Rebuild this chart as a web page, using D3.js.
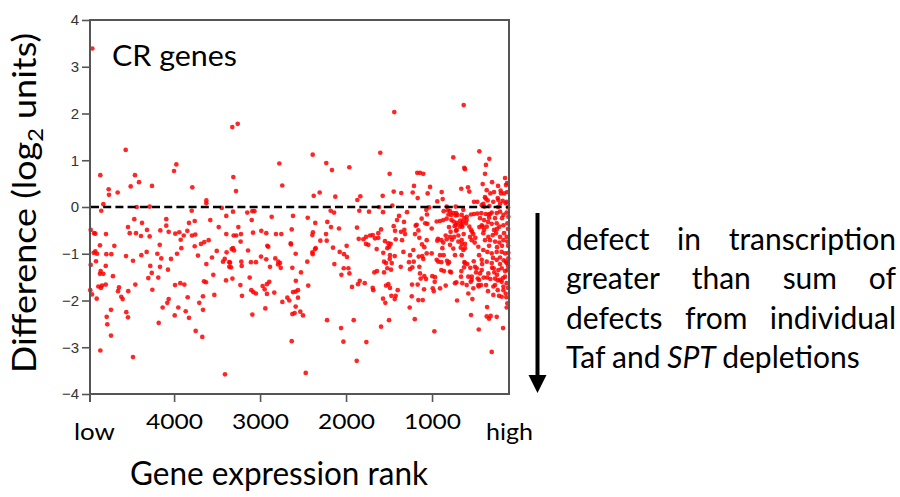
<!DOCTYPE html>
<html><head><meta charset="utf-8">
<script src="https://cdn.jsdelivr.net/npm/d3@7"></script>
<style>body{margin:0;background:#fff}svg{display:block}</style>
</head><body><svg id="c" width="900" height="497"></svg>
<script>
// ---- data: [gene expression rank, difference (log2 units)] ----
const crGenes = [
[4951,3.39],[4563,1.22],[3974,0.91],[4001,0.77],[4858,0.68],[4455,0.68],[4408,0.53],[4505,0.44],[4257,0.45],[3788,0.42],
[4761,0.38],[4656,0.31],[4757,0.26],[4823,0.06],[3625,0.14],[3625,0.08],[4435,0.00],[4284,0.01],[4847,-0.08],[3795,-0.08],
[3446,-0.02],[3393,-0.19],[4463,-0.26],[4091,-0.26],[4373,-0.34],[3760,-0.30],[3827,-0.34],[3579,-0.28],[4091,-0.40],[4536,-0.43],
[4315,-0.49],[4970,-0.49],[4931,-0.56],[4916,-0.57],[4516,-0.56],[4443,-0.56],[4160,-0.50],[4063,-0.53],[3986,-0.57],[3939,-0.54],
[3846,-0.51],[3481,-0.43],[4792,-0.58],[4385,-0.62],[4284,-0.63],[3888,-0.61],[3792,-0.61],[3753,-0.59],[3393,-0.58],[3923,-0.70],
[3598,-0.71],[3649,-0.75],[3687,-0.79],[4862,-0.82],[4695,-0.83],[4167,-0.81],[3760,-0.84],[3916,-0.88],[4916,-0.95],[4935,-0.98],
[4897,-1.00],[4788,-1.01],[4730,-1.01],[4319,-0.96],[4195,-1.00],[3966,-1.00],[3504,-0.94],[4381,-1.03],[4559,-1.05],[3722,-1.04],
[4149,-1.10],[4036,-1.11],[3559,-1.08],[3411,-1.11],[4908,-1.16],[4478,-1.15],[3431,-1.17],[4970,-1.24],[4795,-1.26],[4854,-1.37],
[4862,-1.43],[4823,-1.43],[4711,-1.48],[4277,-1.26],[4164,-1.28],[4071,-1.34],[3625,-1.22],[3358,-1.18],[3358,-1.28],[4260,-1.41],
[4300,-1.52],[4184,-1.51],[3544,-1.45],[3652,-1.59],[3629,-1.61],[3396,-1.57],[3928,-1.63],[3881,-1.66],[3989,-1.67],[4451,-1.66],
[4881,-1.70],[4838,-1.68],[4795,-1.66],[4850,-1.73],[4641,-1.72],[4652,-1.80],[4533,-1.80],[4253,-1.77],[4975,-1.78],[4955,-1.87],
[4614,-1.92],[4598,-1.97],[4900,-1.96],[3842,-1.93],[4063,-1.97],[4079,-2.05],[3664,-1.91],[3532,-1.88],[3707,-2.05],[4133,-2.15],
[3951,-2.15],[4734,-2.20],[4556,-2.25],[3664,-2.20],[3865,-2.23],[3993,-2.32],[4784,-2.35],[4536,-2.36],[3827,-2.37],[4179,-2.48],
[4777,-2.51],[3749,-2.65],[4734,-2.75],[3672,-2.78],[4858,-3.07],[4478,-3.21],[3408,-3.58],[3323,1.71],[3260,1.78],[3311,0.64],
[3280,0.34],[2776,0.93],[2742,0.46],[3315,-0.10],[3149,-0.12],[3090,-0.09],[3066,-0.09],[3097,-0.28],[2865,-0.21],[2617,-0.19],
[1439,2.03],[632,2.18],[2388,1.12],[1602,1.16],[2230,0.94],[2164,0.79],[1962,0.85],[753,1.06],[450,1.19],[334,1.03],
[373,0.90],[625,0.84],[617,0.81],[1493,0.71],[1172,0.73],[1140,0.73],[1102,0.71],[384,0.71],[2376,0.24],[2307,0.31],
[2125,0.22],[1834,0.23],[1869,0.15],[1574,0.24],[1446,0.33],[1358,0.30],[1210,0.45],[1225,0.31],[1167,0.19],[1051,0.29],
[1023,0.43],[888,0.32],[876,0.17],[939,0.12],[660,0.39],[582,0.42],[567,0.33],[411,0.49],[364,0.36],[322,0.29],
[140,0.47],[202,0.35],[160,0.29],[125,0.32],[512,0.11],[474,0.11],[404,0.07],[376,0.18],[353,0.14],[288,0.11],
[229,0.15],[209,0.07],[178,0.13],[143,0.08],[1462,0.03],[1617,0.00],[830,0.01],[725,0.01],[2446,-0.23],[2358,-0.34],
[2179,-0.08],[2140,-0.12],[2218,-0.32],[2175,-0.43],[2082,-0.46],[1846,-0.08],[1733,-0.10],[1570,-0.11],[1384,-0.19],[1407,-0.28],
[1291,-0.11],[1059,-0.16],[1121,-0.25],[1179,-0.38],[1079,-0.35],[946,-0.31],[907,-0.30],[869,-0.28],[830,-0.25],[865,-0.09],
[791,-0.09],[753,-0.13],[725,-0.18],[636,-0.06],[547,-0.16],[748,-0.31],[721,-0.38],[640,-0.31],[663,-0.36],[648,-0.42],
[597,-0.28],[473,-0.14],[427,-0.13],[376,-0.15],[326,-0.15],[442,-0.24],[395,-0.28],[337,-0.23],[1361,-0.53],[1430,-0.51],
[1423,-0.69],[1349,-0.71],[1481,-0.79],[1625,-0.56],[1625,-0.66],[1593,-0.48],[1873,-0.44],[1853,-0.68],[1799,-0.69],[1768,-0.64],
[1721,-0.61],[1690,-0.60],[1547,-0.73],[1508,-0.78],[1520,-0.88],[1198,-0.58],[1148,-0.66],[1117,-0.80],[1062,-0.71],[930,-0.68],
[939,-0.72],[869,-0.76],[830,-0.69],[791,-0.64],[768,-0.70],[744,-0.64],[713,-0.49],[655,-0.39],[694,-0.61],[632,-0.58],
[803,-0.43],[655,-0.71],[566,-0.42],[535,-0.53],[520,-0.58],[497,-0.66],[504,-0.76],[450,-0.43],[411,-0.42],[395,-0.49],
[462,-0.85],[666,-0.87],[880,-0.88],[2632,-0.48],[2640,-0.80],[2753,-0.58],[2385,-0.54],[2392,-0.60],[2233,-0.58],[2225,-0.72],
[2299,-0.72],[2353,-0.88],[2152,-0.87],[1993,-0.83],[3253,-0.43],[3307,-0.61],[3277,-0.61],[3222,-0.58],[3082,-0.55],[2986,-0.51],
[2928,-0.56],[2815,-0.58],[3226,-0.74],[2916,-0.83],[2905,-0.85],[2644,-0.78],[3315,-0.88],[3303,-0.93],[3330,-0.90],[3140,-0.93],
[3389,-0.97],[2989,-1.06],[2928,-1.12],[2823,-1.10],[2586,-1.00],[2392,-0.97],[2388,-1.01],[2361,-0.90],[2074,-0.96],[2024,-1.01],
[1989,-1.07],[2788,-1.17],[2768,-1.20],[2791,-1.23],[2760,-1.30],[3350,-1.19],[3338,-1.29],[3218,-1.17],[3214,-1.26],[3106,-1.18],
[3048,-1.18],[2885,-1.28],[2625,-1.30],[2451,-1.17],[2524,-1.40],[2136,-1.22],[2027,-1.31],[1973,-1.31],[2054,-1.45],[1961,-1.42],
[3322,-1.53],[3121,-1.51],[3229,-1.67],[3210,-1.90],[3102,-1.78],[3079,-1.82],[3048,-1.85],[2970,-1.69],[2920,-1.65],[2893,-1.60],
[2947,-1.76],[2920,-1.86],[2835,-1.83],[2584,-1.58],[2440,-1.68],[2617,-1.82],[2586,-1.81],[2559,-1.78],[2683,-1.94],[2660,-2.00],
[2559,-1.94],[2741,-2.03],[2586,-2.13],[2939,-2.17],[2532,-2.24],[2501,-2.32],[2625,-2.29],[2598,-2.27],[3090,-2.30],[1931,-1.71],
[1861,-1.65],[1841,-1.58],[1783,-1.63],[2221,-2.42],[1911,-2.42],[2058,-2.59],[2632,-2.87],[2031,-2.88],[1764,-2.89],[1876,-3.29],
[2469,-3.55],[1593,-2.56],[1500,-2.42],[1201,-2.40],[973,-2.66],[457,-2.62],[306,-3.10],[174,-2.59],[547,-2.31],[364,-2.34],
[337,-2.39],[318,-2.33],[248,-2.35],[132,-2.15],[709,-2.00],[531,-1.97],[578,-1.85],[1260,-2.15],[1159,-1.99],[1108,-1.99],
[1543,-2.05],[1570,-1.96],[1434,-1.97],[1423,-1.90],[1399,-1.78],[1473,-1.90],[1535,-1.68],[1508,-1.65],[1489,-1.73],[1683,-1.78],
[1690,-1.73],[1233,-1.66],[1167,-1.66],[1093,-1.76],[992,-1.74],[980,-1.80],[841,-1.68],[907,-1.74],[733,-1.63],[648,-1.63],
[457,-1.70],[550,-1.60],[1236,-1.91],[1558,-1.17],[1535,-1.20],[1492,-1.11],[1469,-1.20],[1434,-1.05],[1520,-1.31],[1477,-1.34],
[1558,-1.40],[1671,-1.40],[1640,-1.37],[1364,-1.28],[1268,-1.18],[1213,-1.17],[1256,-1.33],[1229,-1.29],[1148,-1.28],[1102,-1.11],
[1140,-1.42],[1132,-1.53],[1090,-1.48],[1070,-1.54],[1155,-1.06],[997,-1.48],[965,-1.50],[969,-1.60],[946,-1.13],[927,-1.17],
[892,-1.18],[826,-1.15],[803,-1.18],[814,-1.21],[861,-1.37],[892,-1.35],[779,-1.40],[717,-1.61],[659,-1.37],[663,-1.49],
[624,-1.18],[590,-1.22],[555,-1.30],[538,-1.49],[515,-1.16],[480,-1.31],[488,-1.40],[469,-1.53],[453,-1.56],[462,-1.67],
[430,-1.67],[399,-1.51],[442,-1.42],[422,-1.35],[360,-1.51],[322,-1.54],[283,-1.31],[276,-1.40],[236,-1.57],[190,-1.60],
[267,-1.67],[236,-1.78],[190,-1.31],[151,-1.37],[166,-1.14],[209,-1.08],[132,-1.20],[170,-1.78],[143,-1.85],[136,-1.93],
[360,-2.14],[1067,-0.06],[1035,-0.01],[1446,-0.41],[1326,-0.32],[1055,-0.36],[1004,-0.46],[810,-0.16],[817,-0.07],[706,-0.17],
[1663,-0.67],[1768,-0.79],[1497,-0.85],[1322,-0.49],[1314,-0.58],[1190,-0.40],[1159,-0.50],[1090,-0.86],[892,-0.71],[841,-0.61],
[784,-0.53],[722,-0.51],[737,-0.41],[672,-0.29],[625,-0.24],[605,-0.35],[547,-0.49],[539,-0.71],[617,-0.88],[655,-0.79],
[791,-0.81],[753,-0.89],[1004,-0.99],[1062,-0.99],[1113,-1.05],[907,-1.03],[865,-1.03],[1256,-1.03],[1217,-0.92],[1333,-0.96],
[1489,-1.03],[1567,-0.98],[1644,-0.90],[1741,-0.81],[198,0.29],[384,0.21],[236,0.19],[132,0.11],[422,0.04],[392,0.01],
[334,0.02],[721,-0.13],[779,-0.17],[655,-0.17],[597,-0.21],[512,-0.15],[345,-0.16],[306,-0.12],[248,-0.13],[209,-0.10],
[170,-0.17],[132,-0.12],[113,-0.21],[775,-0.28],[710,-0.34],[675,-0.42],[422,-0.39],[364,-0.42],[306,-0.36],[248,-0.35],
[217,-0.42],[170,-0.39],[124,-0.35],[558,-0.64],[404,-0.56],[345,-0.64],[294,-0.60],[256,-0.56],[209,-0.64],[163,-0.56],
[132,-0.64],[326,-0.71],[267,-0.74],[217,-0.76],[170,-0.71],[124,-0.74],[694,-0.74],[617,-0.79],[636,-0.92],[655,-1.03],
[404,-0.92],[357,-0.96],[306,-0.99],[248,-0.96],[190,-0.96],[151,-0.99],[113,-0.98],[733,-1.03],[617,-1.20],[422,-1.13],
[364,-1.17],[306,-1.20],[248,-1.13],[140,-1.17],[113,-1.10],[628,-1.29],[500,-1.28],[791,-1.38],[345,-1.42],[229,-1.35],
[124,-1.35],[267,-1.53],[209,-1.56],[151,-1.49],[578,-1.49],[539,-1.56],[372,-1.67],[287,-1.70],[170,-1.70],[132,-1.63],
[520,-1.74],[597,-1.67],[287,-1.88],[190,-1.92],[124,-2.06],[232,0.00],[116,-0.01],[186,-0.24],[244,-0.47],[116,-0.47],
[186,-0.83],[244,-0.86],[116,-0.83],[209,-1.22],[116,-1.26],[244,-1.45],[174,-1.52],[116,-1.73],[221,-1.90],[291,-1.09],
[337,-0.83],[279,-0.49],[349,-0.32],[267,-0.24],[302,-1.30],[349,-1.80],[384,-0.71],[453,-1.03],[418,-1.22],[128,0.51],
[151,0.62],[232,0.45],[279,0.32],[302,0.53]
];
const xDomain = [4978, 105];          // rank: low expression (left) -> high (right)
const yDomain = [-4, 4];
const xTicks = [4000, 3000, 2000, 1000];
const yTicks = [4, 3, 2, 1, 0, -1, -2, -3, -4];
const xEndLabels = ["low", "high"];
const panelTitle = "CR genes";
const xTitle = "Gene expression rank";
const noteLines = [
  ["defect", "in", "transcription"],
  ["greater", "than", "sum", "of"],
  ["defects", "from", "individual"],
  ["Taf", "and", "SPT", "depletions"]
];
const italicWords = ["SPT"];

// ---- drawing ----
const svg = d3.select("#c");
const L = 90, R = 509, T = 20, B = 394;
const x = d3.scaleLinear().domain(xDomain).range([L, R]);
const y = d3.scaleLinear().domain(yDomain).range([B, T]);
const FONT = "Lato, 'Open Sans', sans-serif";
const AXC = "#555";

// points
svg.append("g").selectAll("circle").data(crGenes).join("circle")
  .attr("cx", d => x(d[0])).attr("cy", d => y(d[1]))
  .attr("r", 2.35).attr("fill", "#ff0000").attr("fill-opacity", 0.85);

// zero dashed line
svg.append("line").attr("x1", L + 1).attr("x2", R - 1)
  .attr("y1", y(0)).attr("y2", y(0))
  .attr("stroke", "#000").attr("stroke-width", 2.7).attr("stroke-dasharray", "8,4.2");

// frame
svg.append("rect").attr("x", L).attr("y", T).attr("width", R - L).attr("height", B - T)
  .attr("fill", "none").attr("stroke", AXC).attr("stroke-width", 2);

// y axis
const gy = svg.append("g").attr("transform", `translate(${L},0)`)
  .call(d3.axisLeft(y).tickValues(yTicks).tickSize(8).tickSizeOuter(0).tickPadding(3)
    .tickFormat(d => d < 0 ? "\u2212" + (-d) : String(d)));
gy.select(".domain").remove();
gy.selectAll(".tick line").attr("stroke", AXC).attr("stroke-width", 1.6);
gy.selectAll(".tick text").attr("font-family", "'Liberation Sans', Arial, sans-serif")
  .attr("font-size", 15).attr("fill", "#333");

// x axis
const gx = svg.append("g").attr("transform", `translate(0,${B})`)
  .call(d3.axisBottom(x).tickValues(xTicks).tickSize(8).tickSizeOuter(0).tickPadding(3)
    .tickFormat(d3.format("d")));
gx.select(".domain").remove();
gx.selectAll(".tick line").attr("stroke", AXC).attr("stroke-width", 1.6);
gx.selectAll(".tick text").attr("font-family", FONT).attr("font-size", 22).attr("fill", "#000")
  .attr("dy", null).attr("y", 35)
  .attr("textLength", 57).attr("lengthAdjust", "spacingAndGlyphs");
// left-edge tick
svg.append("line").attr("x1", L).attr("x2", L).attr("y1", B).attr("y2", B + 8)
  .attr("stroke", AXC).attr("stroke-width", 2);

function label(txt, x0, yb, size, len, anchor) {
  return svg.append("text").attr("x", x0).attr("y", yb).attr("font-family", FONT)
    .attr("font-size", size).attr("fill", "#000").attr("text-anchor", anchor || "start")
    .attr("textLength", len).attr("lengthAdjust", "spacingAndGlyphs").text(txt);
}
label(xEndLabels[0], 74, 440, 23, 41);
label(xEndLabels[1], 486, 440, 23, 47);
label(panelTitle, 112, 66, 28, 125);
label(xTitle, 130, 485, 33, 298);

// y title (rotated) with subscript
const yt = svg.append("text").attr("transform", "translate(36,203) rotate(-90)")
  .attr("text-anchor", "middle").attr("font-family", FONT).attr("font-size", 32).attr("fill", "#000")
  .attr("textLength", 340).attr("lengthAdjust", "spacingAndGlyphs");
yt.append("tspan").text("Difference (log");
yt.append("tspan").attr("font-size", 21).attr("dy", 7).text("2");
yt.append("tspan").attr("dy", -7).text(" units)");

// arrow
svg.append("line").attr("x1", 537.5).attr("x2", 537.5).attr("y1", 213).attr("y2", 378)
  .attr("stroke", "#000").attr("stroke-width", 4);
svg.append("path").attr("d", "M528.5,375 L546.5,375 L537.5,393 Z").attr("fill", "#000");

// justified note
const nx0 = 566, nx1 = 896, nb0 = 250, nstep = 39.3, nsize = 30;
noteLines.forEach((words, li) => {
  const yb = nb0 + li * nstep;
  const els = words.map(w => svg.append("text").attr("y", yb).attr("font-family", FONT)
    .attr("font-size", nsize).attr("fill", "#000")
    .attr("font-style", italicWords.includes(w) ? "italic" : "normal").text(w));
  const widths = els.map(e => e.node().getComputedTextLength());
  const total = d3.sum(widths);
  const last = li === noteLines.length - 1;
  const gap = last ? nsize * 0.22 : (nx1 - nx0 - total) / (words.length - 1);
  let cx = nx0;
  els.forEach((e, i) => { e.attr("x", cx); cx += widths[i] + gap; });
});
</script>
</body></html>
